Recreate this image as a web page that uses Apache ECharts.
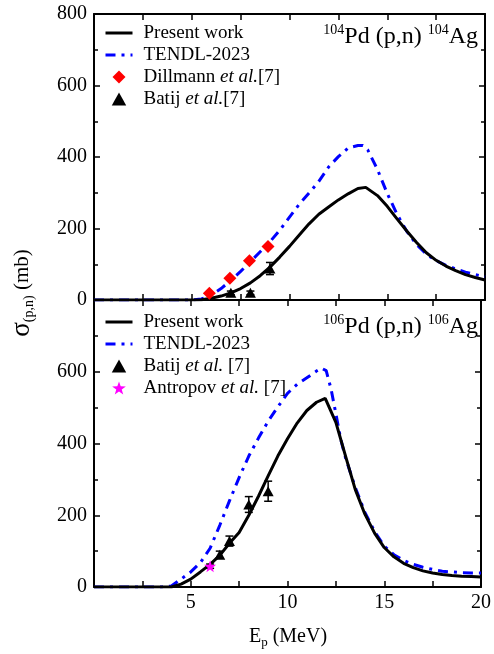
<!DOCTYPE html>
<html><head><meta charset="utf-8">
<script src="https://cdn.jsdelivr.net/npm/echarts@6/dist/echarts.min.js"></script>
<style>html,body{margin:0;padding:0;background:#fff}#c{width:494px;height:654px}</style>
</head><body><div id="c"></div>
<script>
// ---------- DATA ----------
// Top panel: 104Pd(p,n)104Ag
const present104E = [0,1,2,3,4,5,5.5,6,6.5,7,7.5,8,8.5,9,9.5,10,10.5,11,11.5,12,12.5,13,13.5,13.9,14,14.5,15,15.5,16,16.5,17,17.5,18,18.5,19,19.5,20];
const present104S = [0,0,0,0,0,0,1,5,11,20,32,48,68,92,120,150,182,213,240,260,280,297,312,315,314,292,262,227,193,161,132,111,95,82,71,63,56];
const tendl104E = [0,1,2,3,4,5,5.5,6,6.5,7,7.5,8,8.5,9,9.5,10,10.5,11,11.5,12,12.5,13,13.5,13.75,14,14.5,15,15.5,16,16.5,17,17.5,18,18.5,19,19.5,20];
const tendl104S = [0,0,0,0,0,0,3,14,32,55,80,107,135,163,195,232,268,299,332,372,401,425,432,432,420,365,298,240,192,155,128,110,97,87,78,71,65];
const dillmannE = [5.9,6.95,7.95,8.9];
const dillmannS = [19,61,110,150];
const batij104E = [7.0,8.0,9.0];
const batij104S = [20,20,88];
const batij104Err = [5,5,17];

// Bottom panel: 106Pd(p,n)106Ag
const present106E = [0,1,2,3,4,4.5,5,5.5,6,6.5,7,7.5,8,8.5,9,9.5,10,10.5,11,11.5,11.95,12.5,13,13.5,14,14.5,15,15.5,16,16.5,17,17.5,18,18.5,19,19.5,20];
const present106S = [0,0,0,0,0,8,22,42,63,88,122,152,200,253,310,365,413,457,492,515,526,459,365,272,203,150,110,84,66,54,45,39,35,32,30,29,28];
const tendl106E = [0,1,2,3,3.5,4,4.5,5,5.5,6,6.5,7,7.5,8,8.5,9,9.5,10,10.5,11,11.5,11.75,12,12.25,12.5,12.75,13,13.5,14,14.5,15,15.5,16,16.5,17,17.5,18,18.5,19,19.5,20];
const tendl106S = [0,0,0,0,0,3,22,42,68,108,172,240,305,365,415,462,502,540,565,583,602,610,603,552,483,412,360,278,208,155,114,90,74,63,55,49,44,42,40,39,39];
const batij106E = [6.5,7.0,8.0,9.0];
const batij106S = [90,128,230,267];
const batij106Err = [10,14,22,28];
const antropovE = [6.0];
const antropovS = [58];
const antropovErr = [6];

// Axis ticks
const xMin = 0, xMax = 20, xStep = 5;
const yMin = 0, yMax = 800, yStep = 200;

// ---------- CHART ----------
const FONT = 'Liberation Serif';
const zip = (a, b) => a.map((v, i) => [v, b[i]]);
const chart = echarts.init(document.getElementById('c'));

const STAR = 'path://M0,-10 L2.35,-3.24 L9.51,-3.09 L3.8,1.24 L5.88,8.09 L0,4 L-5.88,8.09 L-3.8,1.24 L-9.51,-3.09 L-2.35,-3.24 Z';
const DIAMOND = 'path://M0,-10 L10,0 L0,10 L-10,0 Z';
const TRI = 'path://M0,-9 L10,9 L-10,9 Z';

function xAx(grid, pos, labels) {
  return {
    type: 'value', gridIndex: grid, position: pos, min: xMin, max: xMax, interval: xStep,
    axisLine: {onZero: false, lineStyle: {color: '#000', width: 2}},
    axisTick: {show: true, inside: true, length: 6, lineStyle: {color: '#000', width: 1.5}},
    minorTick: {show: true, splitNumber: 2, length: 6, lineStyle: {color: '#000', width: 1.5}},
    splitLine: {show: false}, minorSplitLine: {show: false},
    axisLabel: {show: labels, color: '#000', fontFamily: FONT, fontSize: 20, margin: 6,
      formatter: v => (v === 0 ? '' : String(v))}
  };
}
function yAx(grid, pos, labels, hideTop) {
  return {
    type: 'value', gridIndex: grid, position: pos, min: yMin, max: yMax, interval: yStep,
    axisLine: {onZero: false, lineStyle: {color: '#000', width: 2}},
    axisTick: {show: true, inside: true, length: 6, lineStyle: {color: '#000', width: 1.5}},
    minorTick: {show: true, splitNumber: 2, length: 4, lineStyle: {color: '#000', width: 1.5}},
    splitLine: {show: false}, minorSplitLine: {show: false},
    axisLabel: {show: labels, color: '#000', fontFamily: FONT, fontSize: 20, margin: 7,
      formatter: v => (hideTop && v === yMax ? '' : String(v))}
  };
}
function errSeries(xi, yi, xs, ys, es) {
  return {
    type: 'custom', xAxisIndex: xi, yAxisIndex: yi, silent: true, z: 3,
    encode: {x: 0, y: [1, 2]},
    data: xs.map((x, i) => [x, ys[i] - es[i], ys[i] + es[i]]),
    renderItem: (params, api) => {
      const x = api.value(0);
      const lo = api.coord([x, api.value(1)]);
      const hi = api.coord([x, api.value(2)]);
      const w = 4, st = {stroke: '#000', lineWidth: 1.5};
      return {type: 'group', children: [
        {type: 'line', shape: {x1: lo[0], y1: lo[1], x2: hi[0], y2: hi[1]}, style: st},
        {type: 'line', shape: {x1: lo[0] - w, y1: lo[1], x2: lo[0] + w, y2: lo[1]}, style: st},
        {type: 'line', shape: {x1: hi[0] - w, y1: hi[1], x2: hi[0] + w, y2: hi[1]}, style: st}
      ]};
    }
  };
}
const blueDash = [10, 6, 3, 6];
const names = {
  'Present work': 'Present work',
  'TENDL-2023': 'TENDL-2023',
  'Dillmann': 'Dillmann {i|et al.}[7]',
  'Batij104': 'Batij {i|et al.}[7]',
  'Batij106': 'Batij {i|et al.} [7]',
  'Antropov': 'Antropov {i|et al.} [7]'
};
const lineItem = n => ({name: n, itemStyle: {opacity: 0}});
function legend(top, data) {
  return {
    orient: 'vertical', left: 99, top: top, itemWidth: 27, itemHeight: 13, itemGap: 2,
    selectedMode: false, symbolKeepAspect: true, data: data,
    lineStyle: {width: 3},
    formatter: n => names[n],
    textStyle: {color: '#000', fontFamily: FONT, fontSize: 19, lineHeight: 20, padding: [0, 0, 0, 6],
      rich: {i: {fontStyle: 'italic', fontFamily: FONT, fontSize: 19, color: '#000'}}}
  };
}
const annRich = {
  m: {fontFamily: FONT, fontSize: 24, lineHeight: 26, verticalAlign: 'bottom', fill: '#000'},
  s: {fontFamily: FONT, fontSize: 14, lineHeight: 26, verticalAlign: 'top', padding: [0, 0, 6, 0], fill: '#000'}
};
const scatterStyle = c => ({color: c, opacity: 1});

chart.setOption({
  animation: false,
  backgroundColor: '#fff',
  grid: [
    {left: 94, right: 9, top: 14, height: 286},
    {left: 94, right: 9, top: 300, height: 287}
  ],
  xAxis: [xAx(0, 'bottom', false), xAx(0, 'top', false), xAx(1, 'bottom', true), xAx(1, 'top', false)],
  yAxis: [yAx(0, 'left', true, false), yAx(0, 'right', false, false), yAx(1, 'left', true, true), yAx(1, 'right', false, false)],
  legend: [
    legend(18, [lineItem('Present work'), lineItem('TENDL-2023'),
      {name: 'Dillmann', icon: DIAMOND}, {name: 'Batij104', icon: TRI}]),
    legend(307, [lineItem('Present work'), lineItem('TENDL-2023'),
      {name: 'Batij106', icon: TRI}, {name: 'Antropov', icon: STAR}])
  ],
  series: [
    {name: 'TENDL-2023', type: 'line', xAxisIndex: 0, yAxisIndex: 0, data: zip(tendl104E, tendl104S),
      symbol: 'none', lineStyle: {color: '#0000ff', width: 3, type: blueDash}, itemStyle: {color: '#0000ff'}, z: 2},
    {name: 'Present work', type: 'line', xAxisIndex: 0, yAxisIndex: 0, data: zip(present104E, present104S),
      symbol: 'none', lineStyle: {color: '#000', width: 3}, itemStyle: {color: '#000'}, z: 2},
    {name: 'Dillmann', type: 'scatter', xAxisIndex: 0, yAxisIndex: 0, data: zip(dillmannE, dillmannS),
      symbol: DIAMOND, symbolSize: 13, itemStyle: scatterStyle('#ff0000'), z: 4},
    errSeries(0, 0, batij104E, batij104S, batij104Err),
    {name: 'Batij104', type: 'scatter', xAxisIndex: 0, yAxisIndex: 0, data: zip(batij104E, batij104S),
      symbol: TRI, symbolSize: [11, 10], itemStyle: scatterStyle('#000'), z: 4},

    {name: 'TENDL-2023', type: 'line', xAxisIndex: 2, yAxisIndex: 2, data: zip(tendl106E, tendl106S),
      symbol: 'none', lineStyle: {color: '#0000ff', width: 3, type: blueDash}, itemStyle: {color: '#0000ff'}, z: 2},
    {name: 'Present work', type: 'line', xAxisIndex: 2, yAxisIndex: 2, data: zip(present106E, present106S),
      symbol: 'none', lineStyle: {color: '#000', width: 3}, itemStyle: {color: '#000'}, z: 2},
    errSeries(2, 2, batij106E, batij106S, batij106Err),
    {name: 'Batij106', type: 'scatter', xAxisIndex: 2, yAxisIndex: 2, data: zip(batij106E, batij106S),
      symbol: TRI, symbolSize: [11, 10], itemStyle: scatterStyle('#000'), z: 4},
    errSeries(2, 2, antropovE, antropovS, antropovErr),
    {name: 'Antropov', type: 'scatter', xAxisIndex: 2, yAxisIndex: 2, data: zip(antropovE, antropovS),
      symbol: STAR, symbolSize: 12, itemStyle: scatterStyle('#ff00ff'), z: 4}
  ],
  graphic: [
    {type: 'text', right: 16, top: 23, z: 10,
      style: {text: '{s|104}{m|Pd (p,n) }{s|104}{m|Ag}', fill: '#000', rich: annRich}},
    {type: 'text', right: 16, top: 313, z: 10,
      style: {text: '{s|106}{m|Pd (p,n) }{s|106}{m|Ag}', fill: '#000', rich: annRich}},
    {type: 'text', x: 22, y: 293, rotation: Math.PI / 2, z: 10,
      style: {text: '{g|σ}{b|(p,n)}{m| (mb)}', align: 'center', verticalAlign: 'middle', fill: '#000',
        rich: {g: {fontFamily: FONT, fontSize: 27, lineHeight: 28, fill: '#000'},
               b: {fontFamily: FONT, fontSize: 14, lineHeight: 28, verticalAlign: 'bottom', fill: '#000'},
               m: {fontFamily: FONT, fontSize: 21, lineHeight: 28, fill: '#000'}}}},
    {type: 'text', x: 288, y: 637, z: 10,
      style: {text: '{m|E}{b|p}{m| (MeV)}', align: 'center', verticalAlign: 'middle', fill: '#000',
        rich: {m: {fontFamily: FONT, fontSize: 20, lineHeight: 24, fill: '#000'},
               b: {fontFamily: FONT, fontSize: 13, lineHeight: 24, verticalAlign: 'bottom', fill: '#000'}}}}
  ]
});
</script></body></html>
